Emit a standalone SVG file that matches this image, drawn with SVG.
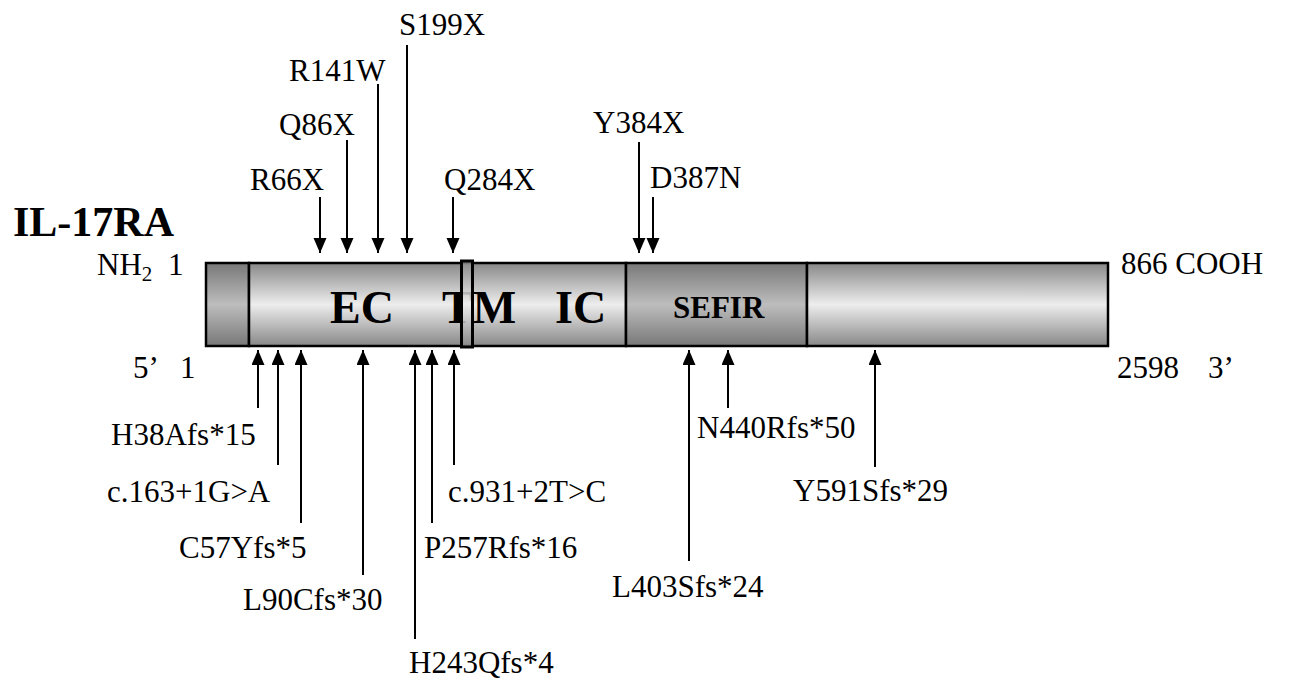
<svg xmlns="http://www.w3.org/2000/svg" width="1293" height="685" viewBox="0 0 1293 685">
<style>
text{font-family:"Liberation Serif","Times New Roman",serif;fill:#000}
.lb{font-size:31px}
.b{font-weight:bold}
.ar{stroke:#000;stroke-width:2;fill:none}
.seg{stroke:#000;stroke-width:2.5}
</style>
<defs>
<linearGradient id="gl" x1="0" y1="0" x2="0" y2="1">
<stop offset="0" stop-color="#888888"/><stop offset="0.5" stop-color="#ededed"/><stop offset="1" stop-color="#888888"/>
</linearGradient>
<linearGradient id="gd" x1="0" y1="0" x2="0" y2="1">
<stop offset="0" stop-color="#787878"/><stop offset="0.5" stop-color="#bdbdbd"/><stop offset="1" stop-color="#787878"/>
</linearGradient>
<marker id="ah" markerUnits="userSpaceOnUse" markerWidth="16" markerHeight="14" refX="15" refY="6.5" orient="auto">
<path d="M0,0 L15,6.5 L0,13 z" fill="#000"/>
</marker>
</defs>
<text x="13" y="236" class="b" font-size="42">IL-17RA</text>
<text x="97" y="275" class="lb">NH<tspan font-size="21" dy="6">2</tspan><tspan x="168" dy="-6">1</tspan></text>
<text x="1121" y="274" class="lb">866 COOH</text>
<text x="133" y="378" class="lb">5’<tspan x="180">1</tspan></text>
<text x="1117" y="378" class="lb">2598<tspan x="1208">3’</tspan></text>
<g id="protein">
<rect x="206" y="263" width="43" height="83" fill="url(#gd)" class="seg"/>
<rect x="249" y="263" width="377" height="83" fill="url(#gl)" class="seg"/>
<rect x="626" y="263" width="181" height="83" fill="url(#gd)" class="seg"/>
<rect x="807" y="263" width="301" height="83" fill="url(#gl)" class="seg"/>
<text x="330" y="323" class="b" font-size="46">EC</text>
<text x="442" y="323" class="b" font-size="46">TM</text>
<text x="555" y="323" class="b" font-size="46">IC</text>
<text x="673" y="318" class="b" font-size="31">SEFIR</text>
<rect x="461.5" y="261" width="11" height="86" fill="url(#gl)" fill-opacity="0.85" stroke="#000" stroke-width="3"/>
</g>
<g id="connectors">
<line x1="320" y1="197" x2="320" y2="253" class="ar" marker-end="url(#ah)"/>
<line x1="347" y1="140" x2="347" y2="253" class="ar" marker-end="url(#ah)"/>
<line x1="378" y1="84" x2="378" y2="253" class="ar" marker-end="url(#ah)"/>
<line x1="407" y1="45" x2="407" y2="253" class="ar" marker-end="url(#ah)"/>
<line x1="453" y1="197" x2="453" y2="253" class="ar" marker-end="url(#ah)"/>
<line x1="639" y1="142" x2="639" y2="253" class="ar" marker-end="url(#ah)"/>
<line x1="653" y1="197" x2="653" y2="253" class="ar" marker-end="url(#ah)"/>
<line x1="258" y1="408" x2="258" y2="350" class="ar" marker-end="url(#ah)"/>
<line x1="278" y1="465" x2="278" y2="350" class="ar" marker-end="url(#ah)"/>
<line x1="301" y1="523" x2="301" y2="350" class="ar" marker-end="url(#ah)"/>
<line x1="363" y1="575" x2="363" y2="350" class="ar" marker-end="url(#ah)"/>
<line x1="415" y1="639" x2="415" y2="350" class="ar" marker-end="url(#ah)"/>
<line x1="432" y1="523" x2="432" y2="350" class="ar" marker-end="url(#ah)"/>
<line x1="454" y1="465" x2="454" y2="350" class="ar" marker-end="url(#ah)"/>
<line x1="689" y1="561" x2="689" y2="350" class="ar" marker-end="url(#ah)"/>
<line x1="728" y1="408" x2="728" y2="350" class="ar" marker-end="url(#ah)"/>
<line x1="875" y1="467" x2="875" y2="350" class="ar" marker-end="url(#ah)"/>
</g>
<g id="labels">
<text x="250" y="190" class="lb">R66X</text>
<text x="279" y="135" class="lb">Q86X</text>
<text x="289" y="81" class="lb">R141W</text>
<text x="399" y="35" class="lb">S199X</text>
<text x="444" y="190" class="lb">Q284X</text>
<text x="593" y="133" class="lb">Y384X</text>
<text x="650" y="188" class="lb">D387N</text>
<text x="111" y="445" class="lb">H38Afs*15</text>
<text x="107" y="502" class="lb">c.163+1G&gt;A</text>
<text x="179" y="558" class="lb">C57Yfs*5</text>
<text x="243" y="610" class="lb">L90Cfs*30</text>
<text x="409" y="673" class="lb">H243Qfs*4</text>
<text x="424" y="558" class="lb">P257Rfs*16</text>
<text x="448" y="502" class="lb">c.931+2T&gt;C</text>
<text x="612" y="597" class="lb">L403Sfs*24</text>
<text x="697" y="438" class="lb">N440Rfs*50</text>
<text x="793" y="501" class="lb">Y591Sfs*29</text>
</g>
</svg>
